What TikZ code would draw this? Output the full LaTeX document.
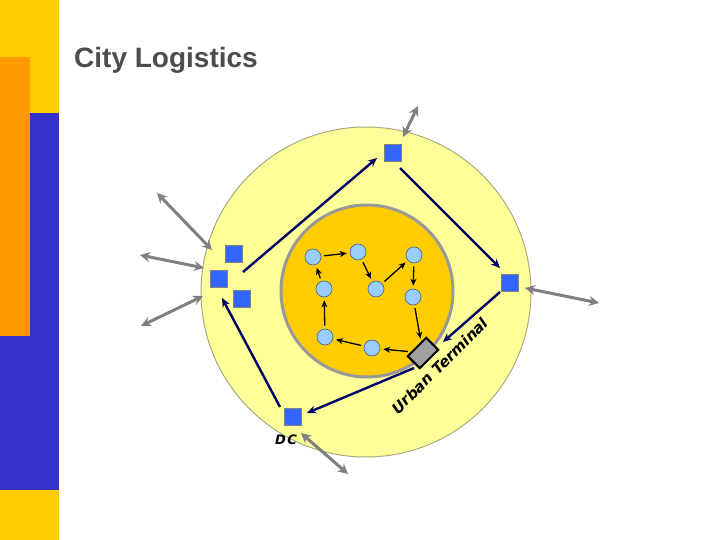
\documentclass[tikz,border=0pt]{standalone}
\usepackage{fontspec}
\setsansfont{Liberation Sans}
\newfontfamily\labelfont{DejaVu Sans}
\usetikzlibrary{arrows.meta,positioning}

\definecolor{barY}{HTML}{FFCC00}
\definecolor{barO}{HTML}{FF9900}
\definecolor{barB}{HTML}{3333CC}
\definecolor{ringY}{HTML}{FFFF99}
\definecolor{coreY}{HTML}{FFCC00}
\definecolor{hubB}{HTML}{3366FF}
\definecolor{custB}{HTML}{99CCFF}
\definecolor{navy}{HTML}{000066}
\definecolor{titleG}{HTML}{4D4D4D}

\begin{document}
\begin{tikzpicture}[x=1pt, y=-1pt,
  hub/.style={draw=gray, line width=1.8pt, fill=hubB, minimum size=17pt,
              inner sep=0pt},
  cust/.style={circle, draw={rgb,255:red,60;green,100;blue,150}, line width=0.6pt,
               fill=custB, minimum size=16pt, inner sep=0pt},
  term/.style={draw=black, line width=2pt, fill=gray!75, minimum width=26pt,
               minimum height=17pt, inner sep=0pt, rotate=45},
  route/.style={draw=navy, line width=2.4pt, -{Stealth[length=9pt,width=8pt]}},
  tour/.style={draw=black, line width=1.3pt, -{Stealth[length=7pt,width=6pt]},
               shorten <=3pt, shorten >=3pt},
  feed/.style={draw=gray, line width=3pt,
               {Stealth[length=10pt,width=10pt]}-{Stealth[length=10pt,width=10pt]}}
]
\useasboundingbox (0,0) rectangle (720,540);
\fill[white] (0,0) rectangle (720,540);

% side bar
\fill[barY] (0,0) rectangle (59,113);
\fill[barY] (0,490) rectangle (59,540);
\fill[barO] (0,57) rectangle (30,336);
\fill[barB] (30,113) rectangle (59,490);
\fill[barB] (0,336) rectangle (30,490);

\node[anchor=base west, font=\sffamily\bfseries\fontsize{28}{32}\selectfont,
      text=titleG, inner sep=0pt] (title) at (74,68) {City Logistics};

% rings
\draw[fill=ringY, draw={rgb,255:red,170;green,170;blue,130}, line width=1pt]
  (366,292) circle (165);
\draw[fill=coreY, draw=gray!80, line width=3pt] (367,291) circle (86);

% hubs
\node[hub] (top) at (393,153) {};
\node[hub] (rt)  at (510,283) {};
\node[hub] (l1)  at (234,254) {};
\node[hub] (l2)  at (219,279) {};
\node[hub] (l3)  at (242,299) {};
\node[hub] (dc)  at (293,417) {};
\node[font=\labelfont\bfseries\itshape\addfontfeature{LetterSpace=10}\fontsize{13}{15}\selectfont]
  (dclbl) at (286,440) {DC};

% terminal and customers
\node[term] (term) at (423,353) {};
\node[cust] (a) at (313,257) {};
\node[cust] (b) at (358,252) {};
\node[cust] (c) at (376,289) {};
\node[cust] (d) at (414,255) {};
\node[cust] (e) at (413,297) {};
\node[cust] (f) at (324,289) {};
\node[cust] (g) at (325,337) {};
\node[cust] (h) at (372,348) {};

\node[rotate=45, font=\labelfont\bfseries\itshape\fontsize{15}{17}\selectfont]
  (termlbl) at (440,366) {Urban Terminal};

% inner tour
\draw[tour] (g) -- (f);
\draw[tour] (f) -- (a);
\draw[tour] (a) -- (b);
\draw[tour] (b) -- (c);
\draw[tour] (c) -- (d);
\draw[tour] (d) -- (e);
\draw[tour] (e) -- (term);
\draw[tour] (term) -- (h);
\draw[tour] (h) -- (g);

% outer route
\draw[route] ([shift={(9,18)}]l1.center) -- ([shift={(-16,5)}]top.center);
\draw[route] ([shift={(7,15)}]top.center) -- ([shift={(-10,-15)}]rt.center);
\draw[route] ([shift={(-10,9)}]rt.center) -- ([shift={(20,-11)}]term.center);
\draw[route] ([shift={(-9,15)}]term.center) -- ([shift={(14,-4)}]dc.center);
\draw[route] ([shift={(-13,-10)}]dc.center) -- ([shift={(3,19)}]l2.center);

% external links
\coordinate (o1) at (418,106);
\coordinate (o2) at (599,303);
\coordinate (o3) at (157,193);
\coordinate (o4) at (140,255);
\coordinate (o5) at (141,326);
\coordinate (o6) at (348,474);
\draw[feed] ([shift={(10,-16)}]top.center) -- (o1);
\draw[feed] ([shift={(15,5)}]rt.center) -- (o2);
\draw[feed] ([shift={(-22,-4)}]l1.center) -- (o3);
\draw[feed] ([shift={(-15,-11)}]l2.center) -- (o4);
\draw[feed] ([shift={(-16,17)}]l2.center) -- (o5);
\draw[feed] ([shift={(8,16)}]dc.center) -- (o6);
\end{tikzpicture}
\end{document}
